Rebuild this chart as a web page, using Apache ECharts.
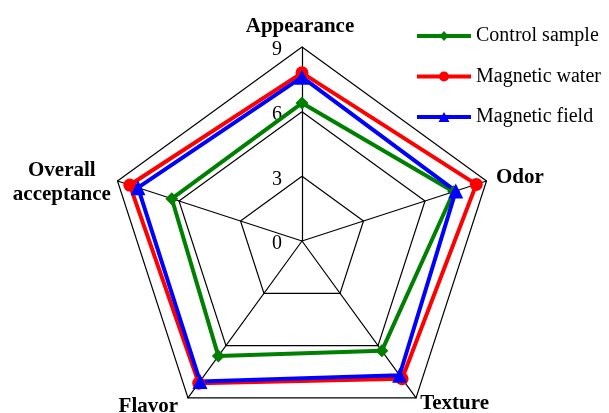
<!DOCTYPE html>
<html lang="en">
<head>
  <meta charset="UTF-8">
  <title>Radar</title>
  <style>
    html, body { margin: 0; padding: 0; background: #fff; }
  </style>
</head>
<body>
  <div id="main" style="width: 609px; height: 413px"></div>
  <script src="https://cdn.jsdelivr.net/npm/echarts@6/dist/echarts.min.js"></script>
  <script>
    // indicators, counter-clockwise from the top
    const indicators = ['Appearance', 'Overall acceptance', 'Flavor', 'Texture', 'Odor']
    const maxScore = 9
    const seriesNames = ['Control sample', 'Magnetic water', 'Magnetic field']
    const controlSample = [6.4, 6.35, 6.6, 6.3, 7.4]
    const magneticWater = [7.8, 8.4, 8.15, 7.9, 8.5]
    const magneticField = [7.6, 8.0, 8.05, 7.7, 7.5]

    const font = 'Liberation Serif'

    // legend icons: a line with the marker in the middle (54 x 10 box)
    const strip = 'M0,3 L54,3 L54,7 L0,7 Z '
    const legendIcons = [
      'path://' + strip + 'M22.5,5 L27,0 L31.5,5 L27,10 Z',
      'path://' + strip + 'M22,5 A5,5 0 1,1 32,5 A5,5 0 1,1 22,5 Z',
      'path://' + strip + 'M27,0 L32.5,10 L21.5,10 Z'
    ]

    const myChart = echarts.init(document.getElementById('main'))

    function radarSeries(name, values, color, symbol, size) {
      return {
        name: name,
        type: 'radar',
        symbol: symbol,
        symbolSize: size,
        lineStyle: { color: color, width: 4 },
        itemStyle: { color: color },
        data: [{ name: name, value: values }]
      }
    }

    // small per-axis tweaks for the name placement
    const nameTweaks = {
      'Appearance': { nameTextStyle: { padding: [0, 4, 0, 0] } },
      'Overall acceptance': { nameGap: 7, nameTextStyle: { padding: [7, 0, 0, 0] } },
      'Flavor': { nameTextStyle: { padding: [2, 4, 0, 0] } },
      'Texture': { nameGap: 7 }
    }

    const option = {
      animation: false,
      legend: {
        orient: 'vertical',
        left: 417,
        top: 26,
        padding: 0,
        itemWidth: 54,
        itemHeight: 10,
        itemGap: 20.5,
        textStyle: { fontFamily: font, fontSize: 20, color: '#000' },
        data: seriesNames.map((n, i) => ({ name: n, icon: legendIcons[i] }))
      },
      radar: {
        center: [302, 241],
        radius: 194,
        startAngle: 90,
        shape: 'polygon',
        splitNumber: 3,
        indicator: indicators.map((n, i) => Object.assign({
          name: n,
          min: 0,
          max: maxScore,
          axisLabel: { show: i === 0 }
        }, nameTweaks[n] || {})),
        nameGap: 10,
        axisName: {
          color: '#000',
          fontFamily: font,
          fontWeight: 'bold',
          fontSize: 21,
          formatter: function (name) {
            return name === 'Overall acceptance' ? '{c|Overall}\n{c|acceptance}' : name
          },
          rich: {
            c: { width: 98, align: 'center', lineHeight: 24, fontFamily: font, fontWeight: 'bold', fontSize: 21, color: '#000' }
          }
        },
        axisLabel: {
          color: '#000',
          fontFamily: font,
          fontSize: 20,
          margin: 20,
          formatter: '{v|{value}}',
          rich: {
            v: { padding: [6, 0, 0, 0], fontFamily: font, fontSize: 20, color: '#000' }
          }
        },
        axisLine: { lineStyle: { color: '#000', width: 1.2 } },
        splitLine: { lineStyle: { color: '#000', width: 1.2 } },
        splitArea: { show: false }
      },
      series: [
        radarSeries(seriesNames[0], controlSample, '#008000', 'diamond', 13),
        radarSeries(seriesNames[1], magneticWater, '#ff0000', 'circle', 13),
        radarSeries(seriesNames[2], magneticField, '#0000ff', 'triangle', 15)
      ]
    }

    myChart.setOption(option)
  </script>
</body>
</html>
